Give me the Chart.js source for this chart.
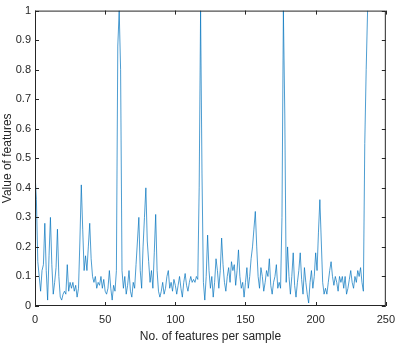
<!DOCTYPE html>
<html>
<head>
<meta charset="utf-8">
<script src="https://cdn.jsdelivr.net/npm/chart.js@4/dist/chart.umd.min.js"></script>
<style>
  html, body { margin: 0; padding: 0; background: #fff; }
  #wrap { width: 402px; height: 344px; }
</style>
</head>
<body>
<div id="wrap"><canvas id="featChart" width="402" height="344"></canvas></div>
<script>
// feature values, one per sample index (0..237)
const featureValues = [
  0.45, 0.36, 0.15, 0.10, 0.05, 0.12, 0.14, 0.28, 0.12, 0.02,
  0.17, 0.30, 0.14, 0.04, 0.08, 0.13, 0.26, 0.10, 0.03, 0.02,
  0.04, 0.05, 0.04, 0.14, 0.05, 0.08, 0.06, 0.08, 0.05, 0.07,
  0.03, 0.06, 0.22, 0.41, 0.26, 0.12, 0.17, 0.12, 0.20, 0.28,
  0.16, 0.10, 0.08, 0.10, 0.06, 0.08, 0.07, 0.10, 0.06, 0.09,
  0.05, 0.04, 0.06, 0.12, 0.06, 0.02, 0.07, 0.05, 0.12, 0.88,
  1.00, 0.80, 0.12, 0.06, 0.10, 0.04, 0.07, 0.12, 0.05, 0.03,
  0.08, 0.06, 0.14, 0.22, 0.30, 0.12, 0.06, 0.20, 0.30, 0.40,
  0.22, 0.15, 0.08, 0.12, 0.06, 0.18, 0.31, 0.12, 0.05, 0.03,
  0.05, 0.08, 0.04, 0.06, 0.10, 0.12, 0.06, 0.08, 0.05, 0.09,
  0.07, 0.04, 0.07, 0.10, 0.06, 0.03, 0.08, 0.11, 0.07, 0.05,
  0.08, 0.10, 0.08, 0.09, 0.08, 0.10, 0.09, 0.40, 1.00, 0.45,
  0.08, 0.02, 0.10, 0.24, 0.12, 0.06, 0.10, 0.03, 0.08, 0.16,
  0.12, 0.06, 0.12, 0.23, 0.14, 0.08, 0.05, 0.10, 0.13, 0.08,
  0.15, 0.12, 0.14, 0.07, 0.12, 0.19, 0.10, 0.06, 0.08, 0.03,
  0.08, 0.13, 0.06, 0.10, 0.16, 0.20, 0.26, 0.32, 0.20, 0.10,
  0.06, 0.13, 0.10, 0.05, 0.08, 0.12, 0.10, 0.16, 0.07, 0.04,
  0.08, 0.10, 0.14, 0.06, 0.08, 0.06, 0.30, 1.00, 0.65, 0.08,
  0.20, 0.10, 0.04, 0.10, 0.18, 0.07, 0.03, 0.08, 0.12, 0.18,
  0.09, 0.04, 0.13, 0.08, 0.04, 0.01, 0.08, 0.12, 0.06, 0.10,
  0.18, 0.12, 0.25, 0.36, 0.22, 0.08, 0.04, 0.06, 0.04, 0.08,
  0.12, 0.15, 0.10, 0.07, 0.10, 0.08, 0.05, 0.10, 0.08, 0.10,
  0.06, 0.10, 0.04, 0.06, 0.09, 0.12, 0.08, 0.06, 0.10, 0.08,
  0.12, 0.10, 0.13, 0.08, 0.05, 0.55, 0.80, 1.00
];
const xTicks = [0, 50, 100, 150, 200, 250];
const yTicks = [0, 0.1, 0.2, 0.3, 0.4, 0.5, 0.6, 0.7, 0.8, 0.9, 1];

const axisColor = '#262626';
const fontFamily = '"Liberation Sans", Arial, sans-serif';

// MATLAB style box with inward ticks
const boxPlugin = {
    id: 'boxTicks',
    afterDraw(chart) {
        const { ctx, chartArea: a, scales } = chart;
        ctx.save();
        ctx.strokeStyle = axisColor;
        ctx.lineWidth = 1;
        ctx.strokeRect(a.left + 0.5, a.top + 0.5, a.right - a.left - 1, a.bottom - a.top - 1);
        ctx.beginPath();
        xTicks.forEach(v => {
            const x = Math.round(scales.x.getPixelForValue(v)) + 0.5;
            ctx.moveTo(x, a.bottom); ctx.lineTo(x, a.bottom - 4);
            ctx.moveTo(x, a.top); ctx.lineTo(x, a.top + 4);
        });
        yTicks.forEach(v => {
            const y = Math.round(scales.y.getPixelForValue(v)) + 0.5;
            ctx.moveTo(a.left, y); ctx.lineTo(a.left + 4, y);
            ctx.moveTo(a.right, y); ctx.lineTo(a.right - 4, y);
        });
        ctx.stroke();
        ctx.restore();
    }
};

const ctx = document.getElementById('featChart').getContext('2d');
new Chart(ctx, {
    type: 'line',
    data: {
        datasets: [{
            data: featureValues.map((v, i) => ({ x: i, y: v })),
            borderColor: '#0072BD',
            borderWidth: 0.7,
            pointRadius: 0,
            tension: 0,
            fill: false
        }]
    },
    options: {
        responsive: false,
        animation: false,
        events: [],
        layout: { padding: { top: 5, right: 10, left: 0, bottom: 0 } },
        plugins: {
            legend: { display: false },
            tooltip: { enabled: false }
        },
        scales: {
            x: {
                type: 'linear',
                min: 0,
                max: 250,
                afterBuildTicks: s => { s.ticks = xTicks.map(v => ({ value: v })); },
                afterFit: s => { s.height = 38; },
                grid: { display: false, drawTicks: false },
                border: { display: false },
                ticks: {
                    padding: 7,
                    color: axisColor,
                    font: { family: fontFamily, size: 11 },
                    maxRotation: 0
                },
                title: {
                    display: true,
                    text: 'No. of features per sample',
                    color: axisColor,
                    font: { family: fontFamily, size: 12 },
                    padding: { top: 2, bottom: 0 }
                }
            },
            y: {
                min: 0,
                max: 1,
                afterBuildTicks: s => { s.ticks = yTicks.map(v => ({ value: v })); },
                afterFit: s => { s.width = 35; },
                grid: { display: false, drawTicks: false },
                border: { display: false },
                ticks: {
                    padding: 4,
                    color: axisColor,
                    font: { family: fontFamily, size: 11 },
                    callback: v => String(Math.round(v * 10) / 10)
                },
                title: {
                    display: true,
                    text: 'Value of features',
                    color: axisColor,
                    font: { family: fontFamily, size: 12 },
                    padding: { top: 0, bottom: 0 }
                }
            }
        }
    },
    plugins: [boxPlugin]
});
</script>
</body>
</html>
